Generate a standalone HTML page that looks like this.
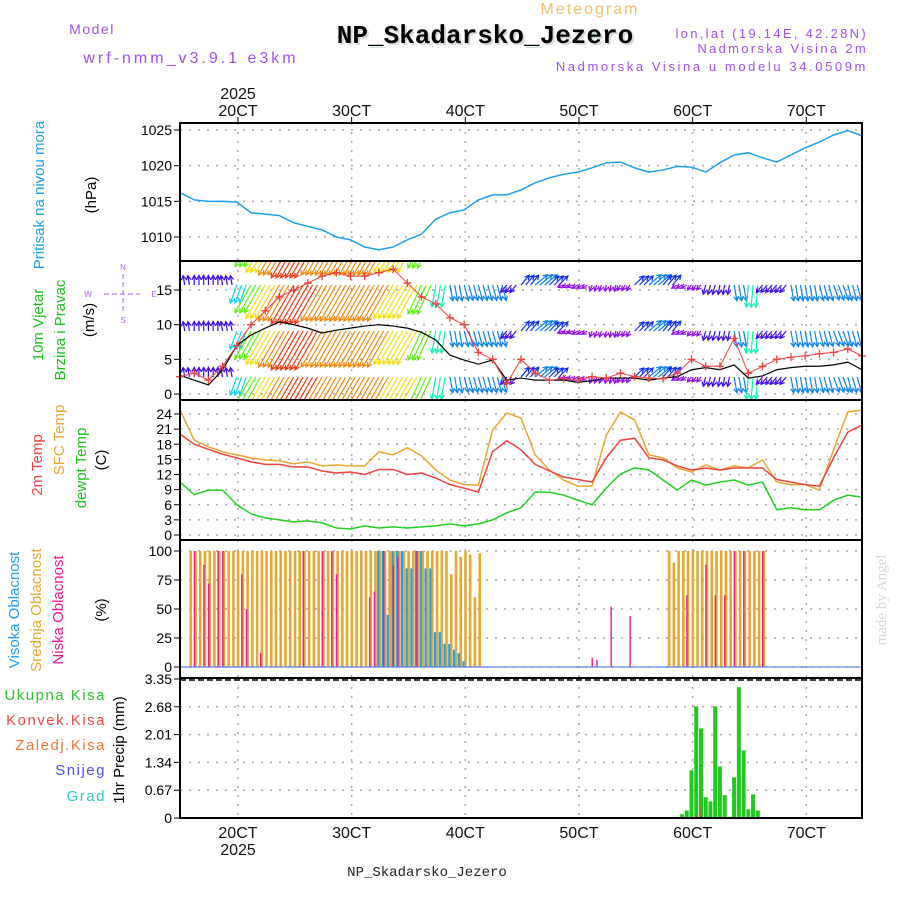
<!DOCTYPE html>
<html><head><meta charset="utf-8">
<style>
html,body{margin:0;padding:0;background:#fff;}
svg{display:block;font-family:"Liberation Sans",sans-serif;}
</style></head>
<body>
<svg id="chart" width="900" height="900" viewBox="0 0 900 900" xmlns="http://www.w3.org/2000/svg">
<g id="static">
<text x="590" y="14" font-size="16" fill="#f0c070" text-anchor="middle" letter-spacing="2">Meteogram</text>
<text x="92" y="34" font-size="14" fill="#a050f0" text-anchor="middle" letter-spacing="1.5">Model</text>
<text x="191" y="63" font-size="16" fill="#a050f0" text-anchor="middle" letter-spacing="3">wrf-nmm_v3.9.1 e3km</text>
<text x="487" y="45" font-size="26" font-weight="bold" fill="#cfe0cf" text-anchor="middle" font-family="Liberation Mono,monospace">NP_Skadarsko_Jezero</text>
<text x="485" y="43" font-size="26" font-weight="bold" fill="#000" text-anchor="middle" font-family="Liberation Mono,monospace">NP_Skadarsko_Jezero</text>
<text x="868" y="38" font-size="13" fill="#a050f0" text-anchor="end" letter-spacing="2.3">lon,lat (19.14E, 42.28N)</text>
<text x="868" y="53" font-size="13" fill="#a050f0" text-anchor="end" letter-spacing="2.3">Nadmorska Visina 2m</text>
<text x="868" y="71" font-size="13" fill="#a050f0" text-anchor="end" letter-spacing="2.6">Nadmorska Visina u modelu 34.0509m</text>
<text x="238" y="99" font-size="16" fill="#111" text-anchor="middle">2025</text>
<text x="427" y="876" font-size="14" fill="#222" text-anchor="middle" font-family="Liberation Mono,monospace">NP_Skadarsko_Jezero</text>
<text x="238" y="855" font-size="16" fill="#111" text-anchor="middle">2025</text>
<text transform="translate(886,600) rotate(-90)" font-size="15" fill="#d0dcd0" text-anchor="middle" font-family="Liberation Serif,serif">made by Angel</text>

<text transform="translate(44,195) rotate(-90)" font-size="15" fill="#1ea0f0" text-anchor="middle">Pritisak na nivou mora</text>
<text transform="translate(96,195) rotate(-90)" font-size="15" fill="#000" text-anchor="middle">(hPa)</text>
<text transform="translate(43,325) rotate(-90)" font-size="15" fill="#20c020" text-anchor="middle">10m Vjetar</text>
<text transform="translate(65,330) rotate(-90)" font-size="15" fill="#20c020" text-anchor="middle">Brzina i Pravac</text>
<text transform="translate(94,320) rotate(-90)" font-size="15" fill="#000" text-anchor="middle">(m/s)</text>
<g fill="#b060f0" font-size="8" text-anchor="middle">
<text x="123" y="270">N</text><text x="123" y="323">S</text><text x="88" y="297">W</text><text x="154" y="297">E</text>
<line x1="104" y1="294" x2="140" y2="294" stroke="#b060f0" stroke-dasharray="5,3"/>
<line x1="123" y1="274" x2="123" y2="314" stroke="#b060f0" stroke-dasharray="5,3"/>
</g>
<text transform="translate(42,465) rotate(-90)" font-size="15" fill="#f04040" text-anchor="middle">2m Temp</text>
<text transform="translate(64,440) rotate(-90)" font-size="15" fill="#e8a830" text-anchor="middle">SFC Temp</text>
<text transform="translate(86,468) rotate(-90)" font-size="15" fill="#20c020" text-anchor="middle">dewpt Temp</text>
<text transform="translate(106,460) rotate(-90)" font-size="15" fill="#000" text-anchor="middle">(C)</text>
<text transform="translate(19,610) rotate(-90)" font-size="15" fill="#1ea0f0" text-anchor="middle">Visoka Oblacnost</text>
<text transform="translate(41,610) rotate(-90)" font-size="15" fill="#e8a830" text-anchor="middle">Srednja Oblacnost</text>
<text transform="translate(63,610) rotate(-90)" font-size="15" fill="#f01890" text-anchor="middle">Niska Oblacnost</text>
<text transform="translate(106,610) rotate(-90)" font-size="15" fill="#000" text-anchor="middle">(%)</text>
<g font-size="15" text-anchor="end" letter-spacing="1.5">
<text x="106" y="700" fill="#30c030">Ukupna Kisa</text>
<text x="106" y="725" fill="#f04848">Konvek.Kisa</text>
<text x="106" y="750" fill="#f07838">Zaledj.Kisa</text>
<text x="106" y="775" fill="#5050f0">Snijeg</text>
<text x="106" y="801" fill="#30c8c8">Grad</text>
</g>
<text transform="translate(124,750) rotate(-90)" font-size="15" fill="#000" text-anchor="middle">1hr Precip (mm)</text>
</g>
<g id="dyn"></g>
</svg>
<script>
// ---- data ----
const dayLabels = ["20CT","30CT","40CT","50CT","60CT","70CT"];
const dayValues = [2,3,4,5,6,7];
const pressure = [1016.2,1015.2,1015,1015,1014.9,1013.4,1013.2,1013,1012,1011.5,1011,1010,1009.6,1008.6,1008.2,1008.6,1009.6,1010.4,1012.5,1013.4,1013.8,1015.2,1015.9,1015.9,1016.6,1017.6,1018.3,1018.8,1019.1,1019.7,1020.4,1020.5,1019.7,1019.1,1019.4,1019.9,1019.8,1019.1,1020.4,1021.5,1021.8,1021.1,1020.5,1021.5,1022.5,1023.3,1024.3,1024.9,1024.2];
const pressureTicks = [1010,1015,1020,1025];
const windSpeed = [2.7,2,1.3,3.5,7,8.5,9.5,10.4,10,9.5,8.8,9.2,9.5,9.8,10,9.8,9.5,8.9,7.8,5.6,4.9,4.3,4.9,2,2.3,2,2,2,1.7,1.9,2.3,2.3,2.3,2,2.3,2.5,3.5,3.8,3.5,4.2,2.3,2.6,3.5,3.8,4,4,4.2,4.6,3.5];
const windGust = [2.5,3,2,4,7,10,12,14,15,16,17,17.5,17,17,17.5,18,16,14,13,11,10,6,5,1.5,5,3,2,2.2,2,2.5,2.3,3,2.5,2.3,2.2,3,5,4,4,8,3,4,5,5.3,5.5,5.8,6,6.5,5.5];
const vecSpeed = [3,3,3,3,6,10,12,13,14,14,13,13,13,13,13,12,12,10,7,5,5,5,5,3,4,5,4,2,2,2,2,2,4,5,4,2,2,3,3,5,7,3,3,5,5,5,5,5,5];
const vecDir = [170,180,180,170,20,30,30,30,30,30,30,30,30,30,30,30,30,25,10,350,345,345,345,40,220,230,225,70,60,20,10,30,225,230,220,60,40,15,10,350,5,40,40,350,350,345,340,345,340];
const windTicks = [0,5,10,15];
const temp2m = [20,18,17,16,15.3,14.5,14,14,13.5,13.5,12.7,12.3,12.5,12,13,13,12,12.3,11.3,10,9.3,8.5,16.5,18.7,16.9,14,12.7,11.5,11,10.5,15.3,18.8,19.2,15.3,14.9,13.7,12.9,13.3,12.9,13.3,13.3,13.3,11,10.5,10,9.7,15.3,20.4,21.8];
const tempSfc = [24.8,18.8,17.5,16.5,15.9,15.3,14.9,14.7,14.1,14.5,13.7,13.9,13.7,13.7,16.5,15.9,17.3,15.7,12.9,10.9,10,9.9,20.8,24.2,23.2,15.9,12.9,10.9,9.7,9.7,19.8,24.4,22.8,15.9,15.3,13.3,12.5,13.9,12.9,13.7,13.3,14.9,10.5,10,10,8.9,16.9,24.4,24.8];
const dewpt = [10.5,8,8.9,8.9,6,4.2,3.4,3,2.6,2.8,2.4,1.4,1.2,1.8,1.4,1.6,1.4,1.6,1.8,2.2,1.8,2.2,3,4.4,5.4,8.5,8.5,7.9,6.9,6,9.3,12.1,13.3,12.9,10.9,8.9,10.9,9.9,10.5,10.9,9.9,10.5,5,5.4,5,5,6.9,7.9,7.5];
const tempTicks = [0,3,6,9,12,15,18,21,24];
const midCloud = [0,0,100,100,100,100,100,100,100,100,100,100,100,100,100,100,100,100,100,100,100,100,100,100,100,100,100,100,100,100,100,100,100,100,100,100,100,100,100,100,100,100,100,100,100,100,100,100,100,100,100,100,100,100,100,100,100,80,100,95,100,97,60,98,0,0,0,0,0,0,0,0,0,0,0,0,0,0,0,0,0,0,0,0,0,0,0,0,0,0,0,0,0,0,0,0,0,0,0,0,0,0,0,100,90,100,100,100,100,100,100,100,100,100,100,100,100,100,100,100,100,100,100,100,0,0,0,0,0,0,0,0,0,0,0,0,0,0,0,0,0,0,0,0,0,0];
const highCloud = [0,0,0,0,0,0,0,0,0,0,0,0,0,0,0,0,0,0,0,0,0,0,0,0,0,0,0,0,0,0,0,0,0,0,0,0,0,0,0,0,0,0,100,100,45,100,100,100,85,85,100,100,85,85,30,30,20,20,15,12,5,0,0,0,0,0,0,0,0,0,0,0,0,0,0,0,0,0,0,0,0,0,0,0,0,0,0,0,0,0,0,0,0,0,0,0,0,0,0,0,0,0,0,0,0,0,0,0,0,0,0,0,0,0,0,0,0,0,0,0,0,0,0,0,0,0,0,0,0,0,0,0,0,0,0,0,0,0,0,0,0];
const lowCloud = [0,0,0,100,0,88,72,0,100,100,0,0,0,80,50,0,0,12,0,0,0,0,0,0,0,0,100,0,0,0,100,0,100,80,0,0,0,0,0,0,60,65,0,100,0,88,95,0,0,0,100,0,0,0,0,0,0,0,0,0,0,0,0,0,0,0,0,0,0,0,0,0,0,0,0,0,0,0,0,0,0,0,0,0,0,0,0,8,6,0,0,52,0,0,0,44,0,0,0,0,0,0,0,0,0,0,0,62,0,0,0,88,0,62,0,62,0,100,0,100,0,0,0,100,0,0,0,0,0,0,0,0,0,0,0,0,0,0,0,0,0,0,0,0,0];
const cloudTicks = [0,25,50,75,100];
const precipHours = [106,107,108,109,110,111,112,113,114,115,116,117,118,119,120,121,122];
const precipTotal = [0.09,0.18,1.15,2.69,2.16,0.5,0.4,2.69,1.24,0.55,0.03,0.98,3.15,1.63,0.21,0.57,0.18];
const precipConv = [0,0,0,0.08,0.28,0,0,0,0,0,0,0,0,0,0,0,0];
const precipTicks = [0,0.67,1.34,2.01,2.68,3.35];

// ---- axes ----
const X0=180, X1=862, D0=1.49, D1=7.49;
const xDay = d => X0 + (d-D0)/(D1-D0)*(X1-X0);
const x3h = i => xDay(D0 + i*3/24);
const xHr = h => xDay(D0 + h/24);
const lin = (v0,v1,y0,y1) => v => y0 + (v-v0)/(v1-v0)*(y1-y0);
const yP = lin(1025,1010,130,237);
const yW = lin(0,15,394,290);
const yT = lin(0,24,535,414);
const yC = lin(0,100,667,551);
const yR = lin(0,3.35,818,679);
const panels = [[123,261],[261,400],[400,540],[540,678],[678,818]];

const NS="http://www.w3.org/2000/svg";
const dyn=document.getElementById('dyn');
function mk(tag, attrs, parent){const e=document.createElementNS(NS,tag);for(const k in attrs)e.setAttribute(k,attrs[k]);(parent||dyn).appendChild(e);return e;}
const defs=mk('defs',{});
const cp=mk('clipPath',{id:'windclip'},defs);
mk('rect',{x:X0,y:262,width:X1-X0,height:137},cp);

function hgrid(ticks, yf, fmt, name){
  ticks.forEach(t=>{
    const y=yf(t);
    const g=mk('line',{x1:X0,x2:X1,y1:y,y2:y,stroke:'#aaa','stroke-width':1.5,'stroke-dasharray':'2,7'});
    
    
    mk('line',{x1:X0-6,x2:X0,y1:y,y2:y,stroke:'#000'});
    const tx=mk('text',{x:X0-8,y:y+5,'font-size':14,'text-anchor':'end',fill:'#000'});
    tx.textContent=fmt(t);
    
    
  });
}
panels.forEach(p=>{
  dayValues.forEach(d=>{
    const x=xDay(d);
    const g=mk('line',{x1:x,x2:x,y1:p[0],y2:p[1],stroke:'#aaa','stroke-width':1.5,'stroke-dasharray':'2,7'});
    
    
  });
});
hgrid(pressureTicks,yP,t=>t,'pressure');
hgrid(windTicks,yW,t=>t,'wind');
hgrid(tempTicks,yT,t=>t,'temp');
hgrid(cloudTicks,yC,t=>t,'cloud');
hgrid(precipTicks,yR,t=>t===0?'0':t.toFixed(2),'precip');
dayValues.forEach((d,i)=>{
  const x=xDay(d);
  const a=mk('text',{x:x,y:116,'font-size':16,'text-anchor':'middle',fill:'#111'});
  a.textContent=dayLabels[i];
  
  
  const b=mk('text',{x:x,y:838,'font-size':16,'text-anchor':'middle',fill:'#111'});
  b.textContent=dayLabels[i];
  
  
  mk('line',{x1:x,x2:x,y1:123,y2:117,stroke:'#000'});
});

function poly(arr, xf, yf, color, w, name){
  const p=mk('polyline',{points:arr.map((v,i)=>xf(i)+','+yf(v)).join(' '),fill:'none',stroke:color,'stroke-width':w});
  
  
  return p;
}
poly(pressure,x3h,yP,'#1ea0f0',1.5,'pressure-line');

// wind vectors (each 3-hourly vector drawn at its three hourly slots)
const wg=mk('g',{'clip-path':'url(#windclip)'});
const rowBases=[239,285,331,377];
function speedColor(s){const h=Math.max(0,Math.min(275,275-(s-2)*22));return 'hsl('+h+',90%,50%)';}
rowBases.forEach(by=>{
  vecSpeed.forEach((s,i)=>{
    const len=s*3.2, to=(vecDir[i]+180)*Math.PI/180;
    const dx=Math.sin(to)*len, dy=-Math.cos(to)*len;
    const c=speedColor(s);
    const ang=Math.atan2(dy,dx);
    [0,1,2].forEach(k=>{
      if(i===vecSpeed.length-1 && k>0) return;
      const x=xHr(i*3+k);
      const ex=x+dx, ey=by+dy;
      const h1x=ex-5*Math.cos(ang-0.5), h1y=ey-5*Math.sin(ang-0.5);
      const h2x=ex-5*Math.cos(ang+0.5), h2y=ey-5*Math.sin(ang+0.5);
      const a=mk('path',{d:`M${x},${by}L${ex},${ey}M${h1x},${h1y}L${ex},${ey}L${h2x},${h2y}`,stroke:c,'stroke-width':1.2,fill:'none'},wg);
      
      
    });
  });
});
poly(windSpeed,x3h,yW,'#000',1.2,'wind-speed-line');
poly(windGust,x3h,yW,'#f04040',1,'wind-gust-line');
windGust.forEach((v,i)=>{
  const x=x3h(i), y=yW(v);
  const m=mk('path',{d:`M${x-4},${y}h8M${x},${y-4}v8`,stroke:'#f04040','stroke-width':1.3});
  
  
});

poly(tempSfc,x3h,yT,'#e8a830',1.5,'sfc-temp-line');
poly(temp2m,x3h,yT,'#f04040',1.5,'temp-2m-line');
poly(dewpt,x3h,yT,'#20d020',1.5,'dewpoint-line');

function cloudBars(arr, color, off, w, name){
  arr.forEach((v,h)=>{
    if(v<=0)return;
    const r=mk('rect',{x:xHr(h)+off,y:yC(v),width:w,height:yC(0)-yC(v),fill:color});
    
    
  });
}
cloudBars(midCloud,'#e8a830',0,2.6,'mid-cloud-bar');
cloudBars(highCloud,'#1ea0f0',-1.8,2.2,'high-cloud-bar');
cloudBars(lowCloud,'#f01890',-0.5,1.4,'low-cloud-bar');
mk('line',{x1:X0,x2:X1,y1:667,y2:667,stroke:'#6080f0','stroke-width':1.2});

precipHours.forEach((h,i)=>{
  const x=xHr(h);
  const r=mk('rect',{x:x-2,y:yR(precipTotal[i]),width:4,height:yR(0)-yR(precipTotal[i]),fill:'#20c820'});
  
  
  if(precipConv[i]>0){
    const c=mk('rect',{x:x-0.5,y:yR(precipConv[i]),width:1,height:yR(0)-yR(precipConv[i]),fill:'#f04040'});
    
    
  }
});
mk('line',{x1:X0,x2:X1,y1:680,y2:680,stroke:'#000','stroke-width':1.5,'stroke-dasharray':'6,3'});
mk('line',{x1:X0,x2:X1,y1:818,y2:818,stroke:'#000','stroke-width':1.5,'stroke-dasharray':'6,3'});

panels.forEach((p,i)=>{
  const r=mk('rect',{x:X0,y:p[0],width:X1-X0,height:p[1]-p[0],fill:'none',stroke:'#000','stroke-width':2});
  
  
});
</script>
</body></html>
